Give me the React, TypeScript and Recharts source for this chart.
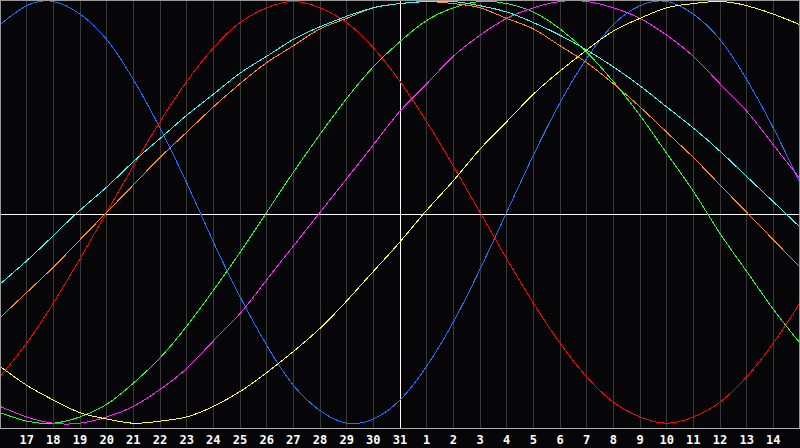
import React from "react";
import { LineChart, Line, XAxis, YAxis, CartesianGrid, ReferenceLine } from "recharts";

const dayLabels = [16,17,18,19,20,21,22,23,24,25,26,27,28,29,30,31,1,2,3,4,5,6,7,8,9,10,11,12,13,14,15];
const tickIndexes = [1,2,3,4,5,6,7,8,9,10,11,12,13,14,15,16,17,18,19,20,21,22,23,24,25,26,27,28,29];

const physical = [89,98,100,94,82,63,40,14,-14,-40,-63,-82,-94,-100,-98,-89,-73,-52,-27,0,27,52,73,89,98,100,94,82,63,40,14];
const emotional = [-78,-62,-43,-22,0,22,43,62,78,90,97,100,97,90,78,62,43,22,0,-22,-43,-62,-78,-90,-97,-100,-97,-90,-78,-62,-43];
const intellectual = [-95,-99,-100,-97,-91,-81,-69,-54,-37,-19,0,19,37,54,69,81,91,97,100,99,95,87,76,62,46,28,10,-10,-28,-46,-62];
const intuitive = [-92,-97,-100,-100,-97,-92,-84,-74,-61,-48,-32,-16,0,16,32,48,61,74,84,92,97,100,100,97,92,84,74,61,48,32,16];
const aesthetic = [-73,-82,-89,-95,-98,-100,-99,-97,-92,-85,-76,-66,-55,-42,-28,-14,1,15,30,43,56,67,77,86,92,97,99,100,98,94,89];
const spiritual = [-34,-23,-11,1,12,24,35,46,56,66,74,82,88,93,97,99,100,100,98,95,90,84,77,69,60,50,40,29,17,5,-7];
const awareness = [-50,-38,-26,-13,0,13,26,38,50,61,71,79,87,92,97,99,100,99,97,92,87,79,71,61,50,38,26,13,0,-13,-26];

const Y_MAX = 100.7;
const Y_MIN = -102.5;
const Y_MID = (Y_MAX + Y_MIN) / 2;
const TODAY_INDEX = 15;

const data = dayLabels.map((label, i) => ({
  i,
  label,
  physical: physical[i],
  emotional: emotional[i],
  intellectual: intellectual[i],
  intuitive: intuitive[i],
  aesthetic: aesthetic[i],
  spiritual: spiritual[i],
  awareness: awareness[i],
}));

const series = [
  { key: "physical", color: "#1f6fff" },
  { key: "emotional", color: "#ff0000" },
  { key: "intellectual", color: "#22ff22" },
  { key: "intuitive", color: "#ff22ff" },
  { key: "aesthetic", color: "#ffff22" },
  { key: "awareness", color: "#ff8a10" },
  { key: "spiritual", color: "#33ffff" },
];

const Tick = (props: any) => {
  const { x, y, payload } = props;
  return (
    <text
      x={x}
      y={y + 15}
      textAnchor="middle"
      fill="#ffffff"
      fontFamily="'DejaVu Sans Mono', monospace"
      fontWeight="bold"
      fontSize={12}
    >
      {dayLabels[payload.value]}
    </text>
  );
};

export default function App() {
  return (
    <div className="bio" style={{ position: "absolute", left: 0, top: 0, width: 800, height: 448, background: "#060608" }}>
      <style>{`.bio svg path, .bio svg line { shape-rendering: crispEdges; }`}</style>
      <LineChart width={800} height={448} data={data} margin={{ top: 0, right: 0, bottom: 0, left: 0 }}>
        <CartesianGrid vertical={true} horizontal={false} stroke="#3a3a3a" strokeWidth={1} />
        <XAxis
          dataKey="i"
          type="number"
          domain={[0, 30]}
          ticks={tickIndexes}
          interval={0}
          axisLine={false}
          tickLine={false}
          tickSize={0}
          tickMargin={0}
          height={19.5}
          tick={<Tick />}
        />
        <YAxis hide domain={[Y_MIN, Y_MAX]} allowDataOverflow />
        <ReferenceLine x={TODAY_INDEX} stroke="#ffffff" strokeWidth={1} />
        <ReferenceLine y={Y_MID} stroke="#ffffff" strokeWidth={1} />
        {series.map((s) => (
          <Line
            key={s.key}
            type="natural"
            dataKey={s.key}
            stroke={s.color}
            strokeWidth={1}
            dot={false}
            activeDot={false}
            isAnimationActive={false}
          />
        ))}
        <ReferenceLine x={0} stroke="#9a9a9a" strokeWidth={2} />
        <ReferenceLine x={30} stroke="#9a9a9a" strokeWidth={2} />
        <ReferenceLine y={Y_MAX} stroke="#9a9a9a" strokeWidth={2} />
        <ReferenceLine y={Y_MIN} stroke="#b0b0b0" strokeWidth={1} />
      </LineChart>
    </div>
  );
}
